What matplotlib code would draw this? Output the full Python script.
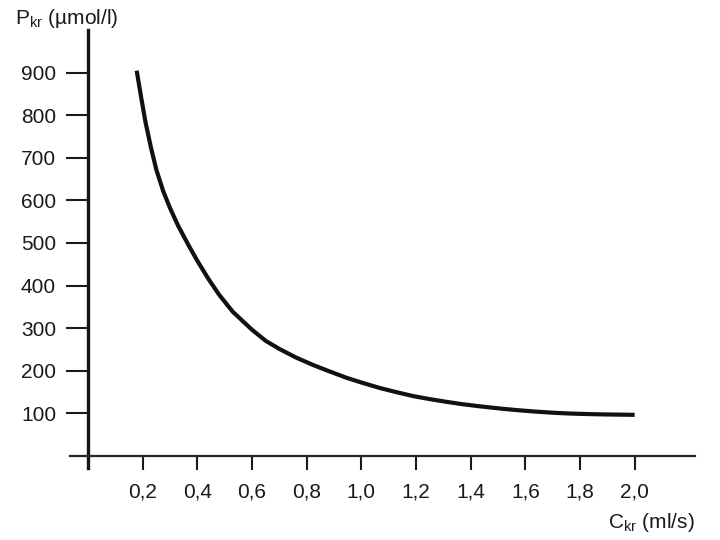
import matplotlib.pyplot as plt

plt.rcParams['font.family'] = ['Liberation Sans', 'DejaVu Sans']
plt.rcParams['mathtext.fontset'] = 'custom'
plt.rcParams['mathtext.rm'] = 'Liberation Sans'

# curve
c_kr = [0.178, 0.195, 0.210, 0.230, 0.250, 0.275, 0.300, 0.330, 0.370,
        0.400, 0.440, 0.480, 0.530, 0.600, 0.650, 0.700, 0.760, 0.824,
        0.880, 0.946, 1.000, 1.068, 1.130, 1.190, 1.250, 1.312, 1.370,
        1.434, 1.520, 1.580, 1.640, 1.700, 1.765, 1.830, 1.886, 1.950,
        2.000]
p_kr = [905, 840, 785, 725, 672, 622, 582, 540, 492,
        458, 416, 378, 338, 296, 270, 251, 231, 213,
        199, 183, 172, 159, 149, 140, 133, 126.5, 121,
        116, 110, 106.5, 103.5, 101, 99, 97.8, 97, 96.4,
        96]

x_ticks = [0.2, 0.4, 0.6, 0.8, 1.0, 1.2, 1.4, 1.6, 1.8, 2.0]
y_ticks = [100, 200, 300, 400, 500, 600, 700, 800, 900]

fig = plt.figure(figsize=(7.2, 5.4), dpi=100)
ax = fig.add_axes([0.0972, 0.1333, 0.8678, 0.8107])

ax.plot(c_kr, p_kr, color='#111111', lw=3.0, solid_capstyle='butt',
        solid_joinstyle='round')

ax.set_xlim(-0.066, 2.22)
ax.set_ylim(-29, 1000)

ax.spines['left'].set_position(('data', 0))
ax.spines['bottom'].set_position(('data', 0))
ax.spines['top'].set_visible(False)
ax.spines['right'].set_visible(False)
ax.spines['left'].set_linewidth(2.4)
ax.spines['bottom'].set_linewidth(1.6)
ax.spines['left'].set_color('#151515')
ax.spines['bottom'].set_color('#252525')

ax.set_xticks(x_ticks)
ax.set_xticklabels([('%.1f' % v).replace('.', ',') for v in x_ticks])
ax.set_yticks(y_ticks)
ax.set_yticklabels([str(v) for v in y_ticks])

ax.tick_params(axis='y', direction='out', length=16, width=1.5, pad=7,
               labelsize=15, colors='#1a1a1a')
ax.tick_params(axis='x', direction='out', length=10, width=1.5, pad=9,
               labelsize=15, colors='#1a1a1a')

fig.text(15 / 720, 1 - 18 / 540, r'P$_{\mathrm{kr}}$ (µmol/l)', fontsize=15,
         ha='left', va='center', color='#1a1a1a')
fig.text(695 / 720, 1 - 522 / 540, r'C$_{\mathrm{kr}}$ (ml/s)', fontsize=15,
         ha='right', va='center', color='#1a1a1a')

fig.savefig('out.png', dpi=100)
